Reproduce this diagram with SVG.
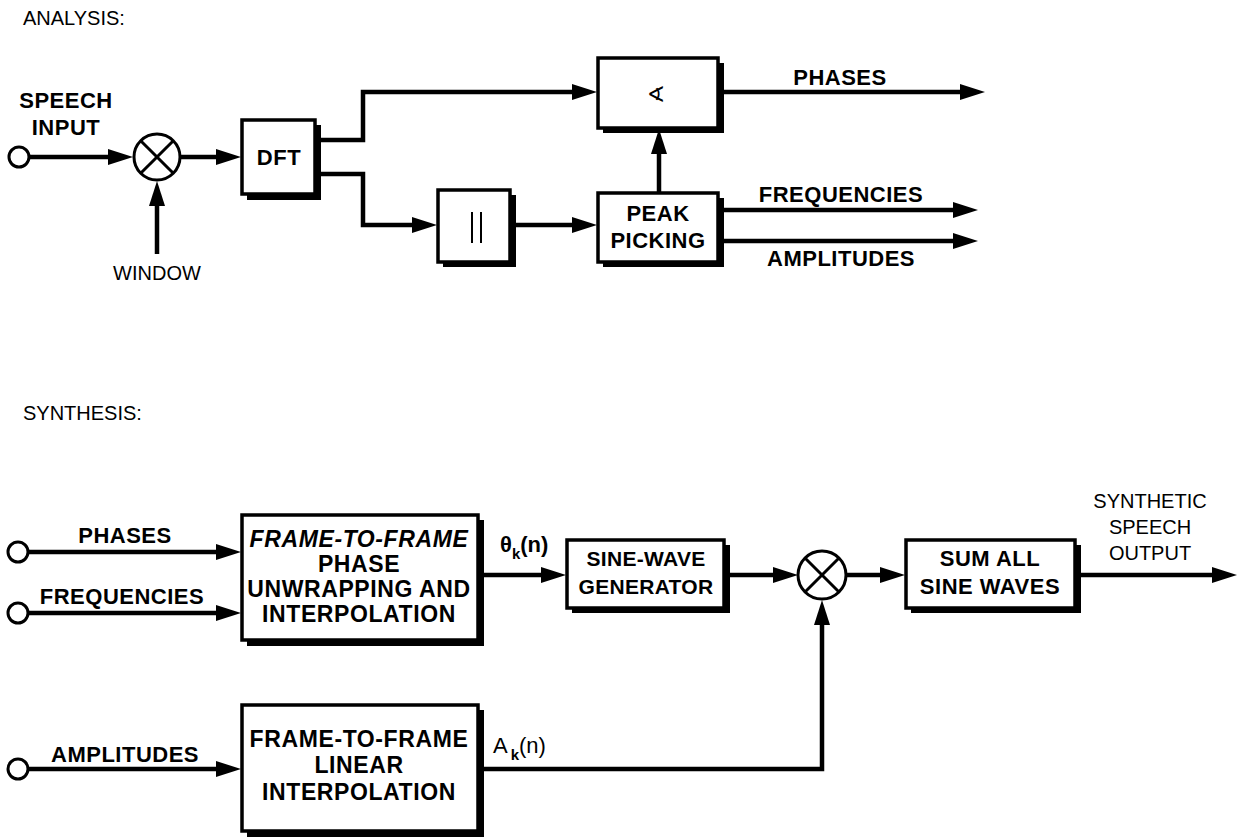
<svg xmlns="http://www.w3.org/2000/svg" width="1240" height="837" viewBox="0 0 1240 837">
<defs>
<style>
.lbl{font-family:"Liberation Sans",Arial,sans-serif;font-weight:bold;font-size:22px;letter-spacing:0.5px;fill:#000;text-anchor:middle}
.bt{font-family:"Liberation Sans",Arial,sans-serif;font-weight:bold;font-size:23px;letter-spacing:0.6px;fill:#000;text-anchor:middle}
.bs{font-family:"Liberation Sans",Arial,sans-serif;font-weight:bold;font-size:21px;letter-spacing:0.3px;fill:#000;text-anchor:middle}
.reg{font-family:"Liberation Sans",Arial,sans-serif;font-size:20px;fill:#000}
.box{fill:#fff;stroke:#000;stroke-width:3.5}
.sh{fill:#000}
.ln{fill:none;stroke:#000;stroke-width:4.5;stroke-linejoin:miter}
.port{fill:#fff;stroke:#000;stroke-width:3}
.mul{fill:#fff;stroke:#000;stroke-width:3}
.x{stroke:#000;stroke-width:3}
</style>
<marker id="ah" markerUnits="userSpaceOnUse" markerWidth="26" markerHeight="18" refX="8" refY="8" orient="auto">
<path d="M0,0 L25,8 L0,16 Z" fill="#000"/>
</marker>
</defs>
<rect width="1240" height="837" fill="#fff"/>

<text class="reg" x="23" y="25">ANALYSIS:</text>
<text class="reg" x="23" y="420">SYNTHESIS:</text>

<g id="connectors">
<line class="ln" x1="28" y1="157" x2="116" y2="157" marker-end="url(#ah)"/>
<line class="ln" x1="157" y1="254" x2="157" y2="198" marker-end="url(#ah)"/>
<line class="ln" x1="180" y1="157" x2="224" y2="157" marker-end="url(#ah)"/>
<polyline class="ln" points="316,140 363,140 363,92 580,92" marker-end="url(#ah)"/>
<polyline class="ln" points="316,174 363,174 363,225 420,225" marker-end="url(#ah)"/>
<line class="ln" x1="511" y1="225" x2="580" y2="225" marker-end="url(#ah)"/>
<line class="ln" x1="659" y1="193" x2="659" y2="146" marker-end="url(#ah)"/>
<line class="ln" x1="719" y1="92" x2="968" y2="92" marker-end="url(#ah)"/>
<line class="ln" x1="719" y1="210" x2="961" y2="210" marker-end="url(#ah)"/>
<line class="ln" x1="719" y1="241" x2="961" y2="241" marker-end="url(#ah)"/>

<line class="ln" x1="28" y1="552" x2="224" y2="552" marker-end="url(#ah)"/>
<line class="ln" x1="28" y1="613" x2="224" y2="613" marker-end="url(#ah)"/>
<line class="ln" x1="28" y1="769" x2="224" y2="769" marker-end="url(#ah)"/>
<line class="ln" x1="479" y1="575" x2="549" y2="575" marker-end="url(#ah)"/>
<line class="ln" x1="725" y1="575" x2="781" y2="575" marker-end="url(#ah)"/>
<line class="ln" x1="846" y1="575" x2="888" y2="575" marker-end="url(#ah)"/>
<line class="ln" x1="1076" y1="575" x2="1220" y2="575" marker-end="url(#ah)"/>
<polyline class="ln" points="479,769 822,769 822,617" marker-end="url(#ah)"/>
</g>

<g id="speech-input">
<circle class="port" cx="19" cy="157" r="10"/>
<text class="lbl" x="66" y="108" letter-spacing="0">SPEECH</text>
<text class="lbl" x="66" y="135" letter-spacing="0">INPUT</text>
</g>
<g id="window-mult">
<circle class="mul" cx="157" cy="157" r="23"/>
<line class="x" x1="140.7" y1="140.7" x2="173.3" y2="173.3"/>
<line class="x" x1="173.3" y1="140.7" x2="140.7" y2="173.3"/>
<text class="reg" x="157" y="280" text-anchor="middle">WINDOW</text>
</g>
<g id="dft">
<rect class="sh" x="247" y="125" width="74" height="75"/>
<rect class="box" x="242" y="120" width="73" height="74"/>
<text class="lbl" x="279" y="165">DFT</text>
</g>
<g id="angle">
<rect class="sh" x="603" y="63" width="121" height="70"/>
<rect class="box" x="598" y="58" width="120" height="70"/>
<text x="656" y="102" font-family="DejaVu Sans,sans-serif" font-size="22" text-anchor="middle">∢</text>
</g>
<g id="magnitude">
<rect class="sh" x="443" y="195" width="73" height="72"/>
<rect class="box" x="438" y="190" width="72" height="72"/>
<line x1="472" y1="212" x2="472" y2="243" stroke="#000" stroke-width="2"/>
<line x1="481" y1="212" x2="481" y2="243" stroke="#000" stroke-width="2"/>
</g>
<g id="peak-picking">
<rect class="sh" x="603" y="198" width="121" height="69"/>
<rect class="box" x="598" y="193" width="120" height="69"/>
<text class="lbl" x="658" y="221">PEAK</text>
<text class="lbl" x="658" y="248">PICKING</text>
</g>
<g id="analysis-outputs">
<text class="lbl" x="840" y="85">PHASES</text>
<text class="lbl" x="841" y="202">FREQUENCIES</text>
<text class="lbl" x="841" y="266">AMPLITUDES</text>
</g>

<g id="syn-inputs">
<circle class="port" cx="18" cy="552" r="10"/>
<circle class="port" cx="18" cy="613" r="10"/>
<circle class="port" cx="18" cy="769" r="10"/>
<text class="lbl" x="125" y="543">PHASES</text>
<text class="lbl" x="122" y="604">FREQUENCIES</text>
<text class="lbl" x="125" y="762">AMPLITUDES</text>
</g>
<g id="phase-interp">
<rect class="sh" x="247" y="520" width="237" height="126"/>
<rect class="box" x="242" y="515" width="236" height="125"/>
<text class="bt" x="359" y="547" font-style="italic">FRAME-TO-FRAME</text>
<text class="bt" x="359" y="572">PHASE</text>
<text class="bt" x="359" y="597">UNWRAPPING AND</text>
<text class="bt" x="359" y="622">INTERPOLATION</text>
<text x="500" y="552" font-family="Liberation Sans,Arial,sans-serif" font-size="22" font-weight="bold">θ<tspan font-size="15" dy="7">k</tspan><tspan dy="-7">(n)</tspan></text>
</g>
<g id="sine-gen">
<rect class="sh" x="572" y="545" width="158" height="68"/>
<rect class="box" x="567" y="540" width="157" height="68"/>
<text class="bs" x="646" y="566">SINE-WAVE</text>
<text class="bs" x="646" y="594">GENERATOR</text>
</g>
<g id="synth-mult">
<circle class="mul" cx="822" cy="575" r="24"/>
<line class="x" x1="805" y1="558" x2="839" y2="592"/>
<line class="x" x1="839" y1="558" x2="805" y2="592"/>
</g>
<g id="sum">
<rect class="sh" x="911" y="545" width="170" height="68"/>
<rect class="box" x="906" y="540" width="169" height="68"/>
<text class="lbl" x="990" y="566" letter-spacing="0.3">SUM ALL</text>
<text class="lbl" x="990" y="594" letter-spacing="0.3">SINE WAVES</text>
</g>
<g id="output">
<text class="reg" x="1150" y="508" text-anchor="middle">SYNTHETIC</text>
<text class="reg" x="1150" y="534" text-anchor="middle">SPEECH</text>
<text class="reg" x="1150" y="560" text-anchor="middle">OUTPUT</text>
</g>
<g id="amp-interp">
<rect class="sh" x="247" y="710" width="237" height="127"/>
<rect class="box" x="242" y="705" width="236" height="126"/>
<text class="bt" x="359" y="747">FRAME-TO-FRAME</text>
<text class="bt" x="359" y="773">LINEAR</text>
<text class="bt" x="359" y="800">INTERPOLATION</text>
<text x="493" y="753" font-family="Liberation Sans,Arial,sans-serif" font-size="22">A<tspan font-size="15" font-weight="bold" dy="7" dx="3">k</tspan><tspan dy="-7">(n)</tspan></text>
</g>
</svg>
